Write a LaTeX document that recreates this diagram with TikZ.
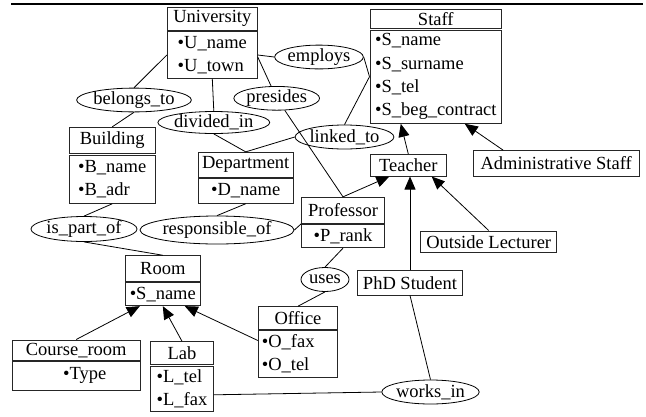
\documentclass[tikz,border=0pt]{standalone}
\usepackage{fontspec}
\setmainfont{Liberation Serif}
\usetikzlibrary{shapes.geometric,arrows.meta}

\tikzset{
  ent/.style={draw=black!85, line width=0.9pt, inner sep=0pt, align=left,
    font=\fontsize{18.5}{23.3}\selectfont},
  rel/.style={draw, ellipse, line width=0.8pt, inner sep=0pt,
    font=\fontsize{18.5}{22}\selectfont},
  link/.style={line width=0.8pt},
  isa/.style={line width=0.8pt, -{Triangle[length=13pt,width=11pt]}},
}
\newcommand{\att}[1]{\textbullet#1}

\begin{document}
\begin{tikzpicture}[x=1pt,y=-1pt]
\useasboundingbox (0,0) rectangle (646,416);

% top rule
\draw[line width=1.2pt] (11,4) -- (643,4);

% entities
\node[ent, minimum width=90pt, minimum height=22.7pt] (univT) at (212.3,18.7) {University};
\node[ent, minimum width=90pt, minimum height=46.6pt] (univA) at (212.3,55) {\att{U\_name}\\\att{U\_town}};

\node[ent, minimum width=131.7pt, minimum height=19pt] (staffT) at (435.8,18.8) {Staff};
\node[ent, minimum width=131.7pt, minimum height=93.3pt] (staffA) at (435.8,76.7)
  {\att{S\_name}\\\att{S\_surname}\\\att{S\_tel}\\\att{S\_beg\_contract}};

\node[ent, minimum width=85.7pt, minimum height=26pt] (bldT) at (112.2,140.3) {Building};
\node[ent, minimum width=85.7pt, minimum height=48.3pt] (bldA) at (112.2,179.2) {\att{B\_name}\\\att{B\_adr}};

\node[ent, minimum width=95.3pt, minimum height=25pt] (depT) at (245.7,164.8) {Department};
\node[ent, minimum width=95.3pt, minimum height=25pt] (depA) at (245.7,190.8) {\att{D\_name}};

\node[ent, minimum width=82.6pt, minimum height=26pt] (profT) at (343,210.3) {Professor};
\node[ent, minimum width=82.6pt, minimum height=23.4pt] (profA) at (343,236) {\att{P\_rank}};

\node[ent, minimum width=76.7pt, minimum height=21.7pt] (teach) at (408.3,165.2) {Teacher};
\node[ent, minimum width=165.7pt, minimum height=25.3pt] (adm) at (556.2,163.3) {Administrative Staff};
\node[ent, minimum width=136pt, minimum height=21.7pt] (outl) at (488.7,241.8) {Outside Lecturer};
\node[ent, minimum width=104.6pt, minimum height=24.3pt] (phd) at (410,282.8) {PhD Student};

\node[ent, minimum width=75.7pt, minimum height=26pt] (roomT) at (162.8,268.7) {Room};
\node[ent, minimum width=75.7pt, minimum height=23pt] (roomA) at (162.8,294.2) {\att{S\_name}};

\node[ent, minimum width=79.4pt, minimum height=22.3pt] (offT) at (298,317.8) {Office};
\node[ent, minimum width=79.4pt, minimum height=47.7pt, inner xsep=3.5pt, text width=72.4pt] (offA) at (298,353.8)
  {\att{O\_fax}\\\att{O\_tel}};

\node[ent, minimum width=127.7pt, minimum height=20.7pt] (crT) at (76.2,350.3) {Course\_room};
\node[ent, minimum width=127.7pt, minimum height=28.3pt] (crA) at (76.2,375.8) {\hspace*{17pt}\att{Type}};

\node[ent, minimum width=62.6pt, minimum height=22.6pt] (labT) at (182,353) {Lab};
\node[ent, minimum width=62.6pt, minimum height=45.7pt] (labA) at (182,388.8) {\att{L\_tel}\\\att{L\_fax}};

% relationships
\node[rel, minimum width=75pt, minimum height=22pt] (emp) at (319,57) {employs};
\node[rel, minimum width=102pt, minimum height=23pt] (bel) at (134,100) {belongs\_to};
\node[rel, minimum width=73pt, minimum height=22pt] (pres) at (276.7,98.3) {presides};
\node[rel, minimum width=91pt, minimum height=22pt] (div) at (213.8,122.5) {divided\_in};
\node[rel, minimum width=84pt, minimum height=24pt] (lnk) at (344.5,137) {linked\_to};
\node[rel, minimum width=92pt, minimum height=25pt] (isp) at (84,229) {is\_part\_of};
\node[rel, minimum width=141pt, minimum height=28pt] (resp) at (217,230) {responsible\_of};
\node[rel, minimum width=48pt, minimum height=24pt] (uses) at (325,279.5) {uses};
\node[rel, minimum width=81pt, minimum height=24pt] (works) at (430.5,392) {works\_in};

% relationship links
\draw[link] (univA.west) -- (bel.north);
\draw[link] (bel.south) -- (bldT.north);
\draw[link] (univA.south) -- (div.north);
\draw[link] (div.south) -- (depT.north);
\draw[link] (univA.east) -- (emp.west);
\draw[link] (emp.east) -- (staffA.west);
\draw[link] ([yshift=-2pt]univA.east) -- (pres);
\draw[link] (pres) -- (profT.north);
\draw[link] (staffA.west) -- (lnk.north);
\draw[link] (lnk.west) -- (depT.north);
\draw[link] (bldA.south) -- (isp.north);
\draw[link] (isp.south) -- (roomT.north);
\draw[link] (depA.south) -- (resp.north);
\draw[link] (resp.east) -- (profT.south west);
\draw[link] (profA.south) -- (uses.north);
\draw[link] (uses.south) -- (offT.north);
\draw[link] ([yshift=-6pt]labA.east) -- (works.west);
\draw[link] (phd.south) -- (works.north);

% generalisations
\draw[isa] (teach.north) -- ([xshift=-35pt]staffA.south);
\draw[isa] ([xshift=-53pt]adm.north) -- ([xshift=29pt]staffA.south);
\draw[isa] (profT.north) -- ([xshift=-19pt]teach.south);
\draw[isa] (phd.north) -- (phd.north |- teach.south);
\draw[isa] (outl.north) -- ([xshift=23.4pt]teach.south);
\draw[isa] (crT.north) -- ([xshift=-23pt]roomA.south);
\draw[isa] (labT.north) -- (roomA.south);
\draw[isa] ([yshift=-11pt]offA.north west) -- ([xshift=22pt]roomA.south);
\end{tikzpicture}
\end{document}
